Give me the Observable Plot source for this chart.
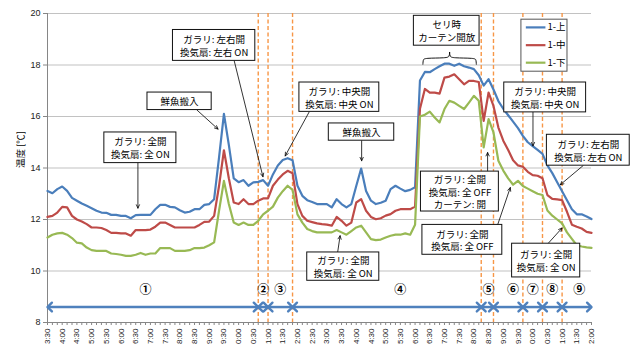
<!DOCTYPE html>
<html>
<head>
<meta charset="utf-8">
<script src="https://cdn.jsdelivr.net/npm/d3@7"></script>
<script src="https://cdn.jsdelivr.net/npm/@observablehq/plot@0.6"></script>
<style>
  html, body { margin: 0; padding: 0; background: #fff; }
  #chart svg { font-family: "Liberation Sans", "DejaVu Sans", sans-serif; }
  #chart svg [aria-label^="x-axis"] text { font-size: 8px; fill: #222; }
  #chart svg [aria-label^="y-axis"] text { font-size: 9px; fill: #222; }
  #chart svg [aria-label^="x-axis"] line, #chart svg [aria-label^="x-axis"] path,
  #chart svg [aria-label^="y-axis"] line, #chart svg [aria-label^="y-axis"] path { stroke: #868686; }
</style>
</head>
<body>
<div id="chart"></div>
<script>
// Sampling times (every 10 minutes)
const sampleTimes = [
  "3:30","3:40","3:50",
  "4:00","4:10","4:20","4:30","4:40","4:50",
  "5:00","5:10","5:20","5:30","5:40","5:50",
  "6:00","6:10","6:20","6:30","6:40","6:50",
  "7:00","7:10","7:20","7:30","7:40","7:50",
  "8:00","8:10","8:20","8:30","8:40","8:50",
  "9:00","9:10","9:20","9:30","9:40","9:50",
  "10:00","10:10","10:20","10:30","10:40","10:50",
  "11:00","11:10","11:20","11:30","11:40","11:50",
  "12:00","12:10","12:20","12:30","12:40","12:50",
  "13:00","13:10","13:20","13:30","13:40","13:50",
  "14:00","14:10","14:20","14:30","14:40","14:50",
  "15:00","15:10","15:20","15:30","15:40","15:50",
  "16:00","16:10","16:20","16:30","16:40","16:50",
  "17:00","17:10","17:20","17:30","17:40","17:50",
  "18:00","18:10","18:20","18:30","18:40","18:50",
  "19:00","19:10","19:20","19:30","19:40","19:50",
  "20:00","20:10","20:20","20:30","20:40","20:50",
  "21:00","21:10","21:20","21:30","21:40","21:50",
  "22:00"
];

// Labelled ticks on the time axis
const tickLabels = [
  "3:30","4:00","4:30","5:00","5:30","6:00","6:30","7:00","7:30","8:00",
  "8:30","9:00","9:30","10:00","10:30","11:00","11:30","12:00","12:30","13:00",
  "13:30","14:00","14:30","15:00","15:30","16:00","16:30","17:00","17:30","18:00",
  "18:30","19:00","19:30","20:00","20:30","21:00","21:30","22:00"
];
const yTicks = [8, 10, 12, 14, 16, 18, 20];

// Temperatures (°C) at the three sensor heights
const upper = [
  13.11,13.02,13.18,13.28,13.11,12.84,12.73,12.62,12.53,12.44,
  12.34,12.27,12.26,12.18,12.18,12.14,12.14,12.05,12.17,12.18,
  12.18,12.18,12.40,12.57,12.57,12.49,12.47,12.36,12.27,12.30,
  12.40,12.40,12.57,12.60,12.79,14.40,16.10,14.90,13.60,13.45,
  13.53,13.31,13.44,13.46,13.53,13.31,13.75,14.10,14.31,14.38,
  14.30,13.31,12.92,12.75,12.68,12.60,12.60,12.60,12.47,12.79,
  12.60,12.47,12.60,13.30,13.98,13.11,12.73,12.60,12.65,12.73,
  13.18,13.31,13.20,13.10,13.15,13.25,17.40,17.73,17.72,17.84,
  17.95,18.05,18.05,17.97,18.05,17.95,17.90,17.84,17.60,17.20,
  17.45,17.05,16.60,16.30,16.05,15.80,15.55,15.25,15.00,14.85,
  14.70,14.55,14.10,13.80,13.45,13.10,12.75,12.40,12.20,12.20,
  12.12,12.02
];
const middle = [
  12.10,12.14,12.27,12.49,12.47,12.14,12.00,11.92,11.82,11.69,
  11.69,11.67,11.59,11.48,11.48,11.46,11.46,11.37,11.59,11.59,
  11.59,11.61,11.72,11.88,11.88,11.79,11.69,11.69,11.69,11.69,
  11.69,11.79,11.91,11.92,12.14,13.30,14.69,13.60,12.66,12.60,
  12.79,12.60,12.60,12.73,12.82,12.82,13.31,13.55,13.75,13.89,
  13.80,12.60,12.14,11.95,11.90,11.85,11.82,11.80,11.76,12.10,
  11.95,11.76,11.88,12.66,12.79,12.34,12.10,12.01,12.05,12.15,
  12.21,12.34,12.40,12.40,12.40,12.50,16.30,17.07,16.93,16.93,
  16.89,17.51,17.55,17.64,17.45,17.25,17.38,17.38,17.34,15.83,
  16.93,16.41,15.57,15.06,14.70,14.30,14.10,14.05,13.85,13.72,
  13.70,13.60,12.95,12.80,12.78,12.75,12.30,11.80,11.72,11.65,
  11.52,11.48
];
const lower = [
  11.30,11.41,11.46,11.48,11.41,11.28,11.10,11.07,10.91,10.81,
  10.78,10.78,10.78,10.68,10.66,10.63,10.59,10.59,10.63,10.70,
  10.63,10.68,10.68,10.89,10.89,10.89,10.78,10.78,10.78,10.81,
  10.89,10.89,10.91,11.00,11.11,12.34,13.50,12.60,11.88,11.79,
  11.88,11.79,11.79,11.95,12.20,12.34,12.50,12.85,13.10,13.31,
  13.15,12.20,11.88,11.63,11.55,11.50,11.50,11.50,11.50,11.59,
  11.50,11.41,11.55,11.69,11.76,11.50,11.24,11.20,11.22,11.30,
  11.37,11.41,11.41,11.46,11.41,11.80,16.00,16.07,16.19,15.96,
  15.77,16.29,16.61,16.54,16.41,16.29,16.54,16.80,16.61,14.80,
  15.90,15.38,14.28,13.90,13.60,13.35,13.50,13.30,13.20,13.10,
  13.00,12.95,12.35,12.15,12.00,11.85,11.50,11.25,11.00,10.95,
  10.92,10.90
];

const seriesNames = ["1-上", "1-中", "1-下"];
const seriesColors = ["#4A7EBB", "#BE4B48", "#98B954"];
const seriesValues = [upper, middle, lower];

// Operating phases: boundaries (orange dashed lines) and their labels
const phaseBoundaries = ["10:40","11:00","11:50","18:15","18:40","19:40","20:20","21:00"];
const phaseNames = ["①","②","③","④","⑤","⑥","⑦","⑧","⑨"];
const phaseNameAt = ["6:50","10:50","11:25","15:30","18:30","19:20","20:00","20:40","21:35"];

const toMin = s => { const [h, m] = s.split(":").map(Number); return h * 60 + m; };
const tMin = sampleTimes.map(toMin);
const labelByMin = new Map(tickLabels.map(s => [toMin(s), s]));

const seriesRows = seriesValues.map(vals => vals.map((v, i) => ({t: tMin[i], v})));

// Callout layout (x in minutes of the day, y in °C)
const callouts = [
  {text: "ガラリ: 全開\n換気扇: 全 ON", x1: 326, x2: 473, y1: 14.19, y2: 15.38, ax1: 394.5, ay1: 14.19, ax2: 394.5, ay2: 12.44},
  {text: "鮮魚搬入", x1: 414, x2: 545, y1: 16.25, y2: 16.93, ax1: 515, ay1: 16.25, ax2: 558, ay2: 15.51},
  {text: "ガラリ: 左右開\n換気扇: 左右 ON", x1: 466, x2: 634, y1: 18.16, y2: 19.36, ax1: 591, ay1: 18.16, ax2: 649.6, ay2: 13.66},
  {text: "ガラリ: 中央開\n換気扇: 中央 ON", x1: 724, x2: 887, y1: 16.18, y2: 17.32, ax1: 744, ay1: 16.18, ax2: 695, ay2: 14.47},
  {text: "鮮魚搬入", x1: 784, x2: 917.5, y1: 15.06, y2: 15.73, ax1: 851, ay1: 15.06, ax2: 851, ay2: 14.28},
  {text: "セリ時\nカーテン開放", x1: 957.6, x2: 1091.6, y1: 18.75, y2: 19.91},
  {text: "ガラリ: 全開\n換気扇: 全 OFF\nカーテン: 開", x1: 972, x2: 1131, y1: 12.31, y2: 13.86, ax1: 1108, ay1: 13.86, ax2: 1108, ay2: 14.6},
  {text: "ガラリ: 全開\n換気扇: 全 OFF", x1: 975, x2: 1138, y1: 10.63, y2: 11.79, ax1: 1128.4, ay1: 11.79, ax2: 1154.3, ay2: 13.24},
  {text: "ガラリ: 中央開\n換気扇: 中央 ON", x1: 1142, x2: 1309, y1: 16.16, y2: 17.32, ax1: 1200.6, ay1: 16.16, ax2: 1200.6, ay2: 14.86},
  {text: "ガラリ: 左右開\n換気扇: 左右 ON", x1: 1229, x2: 1398, y1: 14.09, y2: 15.29, ax1: 1302.7, ay1: 14.09, ax2: 1256.3, ay2: 13.35},
  {text: "ガラリ: 全開\n換気扇: 全 ON", x1: 1158, x2: 1297, y1: 9.75, y2: 11.06, ax1: 1231, ay1: 11.06, ax2: 1260, ay2: 11.67},
  {text: "ガラリ: 全開\n換気扇: 全 ON", x1: 740, x2: 887, y1: 9.62, y2: 10.72, ax1: 802, ay1: 10.72, ax2: 807, ay2: 11.37}
];

// Curly brace over the auction period
const brace = {from: 976, to: 1085, base: 18.03, level: 18.27, tip: 18.49};
const braceMid = (brace.from + brace.to) / 2;
const braceHalves = [
  [[brace.from, brace.base], [brace.from + 0.5, brace.level - 0.07], [brace.from + 3, brace.level], [braceMid - 6, brace.level], [braceMid - 0.5, brace.level + 0.06], [braceMid, brace.tip]],
  [[brace.to, brace.base], [brace.to - 0.5, brace.level - 0.07], [brace.to - 3, brace.level], [braceMid + 6, brace.level], [braceMid + 0.5, brace.level + 0.06], [braceMid, brace.tip]]
];

// Phase spans (double-headed arrows) and labels
const edges = [sampleTimes[0], ...phaseBoundaries, sampleTimes[sampleTimes.length - 1]].map(toMin);
const phaseY = 8.6, phaseLabelY = 9.27;
const spans = d3.pairs(edges).map(([a, b]) => ({x1: a, x2: b, y: phaseY}));
const phaseLabels = phaseNames.map((n, i) => ({t: toMin(phaseNameAt[i]), y: phaseLabelY, n}));
// Chevron heads at both ends of each span (half-width in minutes, half-height in °C)
const headW = 9, headH = 0.17;
const chevrons = spans.flatMap((s, k) => [
  [[s.x1 + headW, s.y + headH], [s.x1, s.y], [s.x1 + headW, s.y - headH]].map(([x, y]) => ({x, y, id: `s${k}`})),
  [[s.x2 - headW, s.y + headH], [s.x2, s.y], [s.x2 - headW, s.y - headH]].map(([x, y]) => ({x, y, id: `e${k}`}))
]).flat();

// Legend box inside the plot area
const legendBox = {x1: 1177, x2: 1271, y1: 17.74, y2: 19.76};
const legendRows = seriesNames.map((name, i) => ({name, color: seriesColors[i], y: [19.46, 18.77, 18.09][i], x1: 1186, x2: 1226, xt: 1230}));

const jp = "Noto Sans CJK JP";

const chart = Plot.plot({
  width: 635,
  height: 344,
  marginLeft: 47,
  marginRight: 44,
  marginTop: 13,
  marginBottom: 22,
  x: {
    type: "linear",
    domain: [tMin[0], tMin[tMin.length - 1]],
    ticks: tMin,
    tickFormat: m => labelByMin.get(m) ?? "",
    tickRotate: -90,
    tickSize: 3,
    tickPadding: 3,
    label: null
  },
  y: {domain: [8, 20], ticks: yTicks, tickSize: 4, tickPadding: 3, label: null},
  marks: [
    Plot.ruleY(yTicks.filter(v => v > 8), {stroke: "#c2c2c2", strokeWidth: 1.1}),
    Plot.ruleX(phaseBoundaries.map(toMin), {stroke: "#F79646", strokeWidth: 1.4, strokeDasharray: "4,2.5"}),
    Plot.ruleY([8], {stroke: "#868686"}),
    Plot.ruleX([tMin[0]], {stroke: "#868686"}),
    ...seriesRows.map((rows, i) => Plot.line(rows, {x: "t", y: "v", stroke: seriesColors[i], strokeWidth: 2.2})),
    Plot.arrow(callouts.filter(d => d.ax1 !== undefined), {x1: "ax1", y1: "ay1", x2: "ax2", y2: "ay2", stroke: "#000", strokeWidth: 0.8, headLength: 7, headAngle: 50}),
    Plot.rect(callouts, {x1: "x1", x2: "x2", y1: "y1", y2: "y2", fill: "white", stroke: "#111", strokeWidth: 1}),
    Plot.text(callouts, {x: d => (d.x1 + d.x2) / 2, y: d => (d.y1 + d.y2) / 2, text: "text", fontSize: 9.5, lineHeight: 1.35, fontFamily: jp, fill: "#000"}),
    ...braceHalves.map(pts => Plot.line(pts, {x: "0", y: "1", curve: "basis", stroke: "#000", strokeWidth: 0.9})),
    Plot.link(spans, {x1: "x1", x2: "x2", y1: "y", y2: "y", stroke: "#4F81BD", strokeWidth: 2.5}),
    Plot.line(chevrons, {x: "x", y: "y", z: "id", stroke: "#4F81BD", strokeWidth: 2.4, strokeLinejoin: "round", strokeLinecap: "round"}),
    Plot.text(phaseLabels, {x: "t", y: "y", text: "n", fontSize: 12, fontWeight: "bold", fontFamily: jp, fill: "#000"}),
    Plot.rect([legendBox], {x1: "x1", x2: "x2", y1: "y1", y2: "y2", fill: "white", stroke: "#555", strokeWidth: 1}),
    Plot.link(legendRows, {x1: "x1", x2: "x2", y1: "y", y2: "y", stroke: "color", strokeWidth: 2.2}),
    Plot.text(legendRows, {x: "xt", y: "y", text: "name", textAnchor: "start", fontSize: 9.5, fontFamily: jp, fill: "#000"}),
    Plot.text(["温度 [℃]"], {text: d => d, frameAnchor: "left", rotate: -90, dx: -27, fontSize: 9.5, fontFamily: jp, fill: "#000"})
  ]
});

document.getElementById("chart").appendChild(chart);
</script>
</body>
</html>
